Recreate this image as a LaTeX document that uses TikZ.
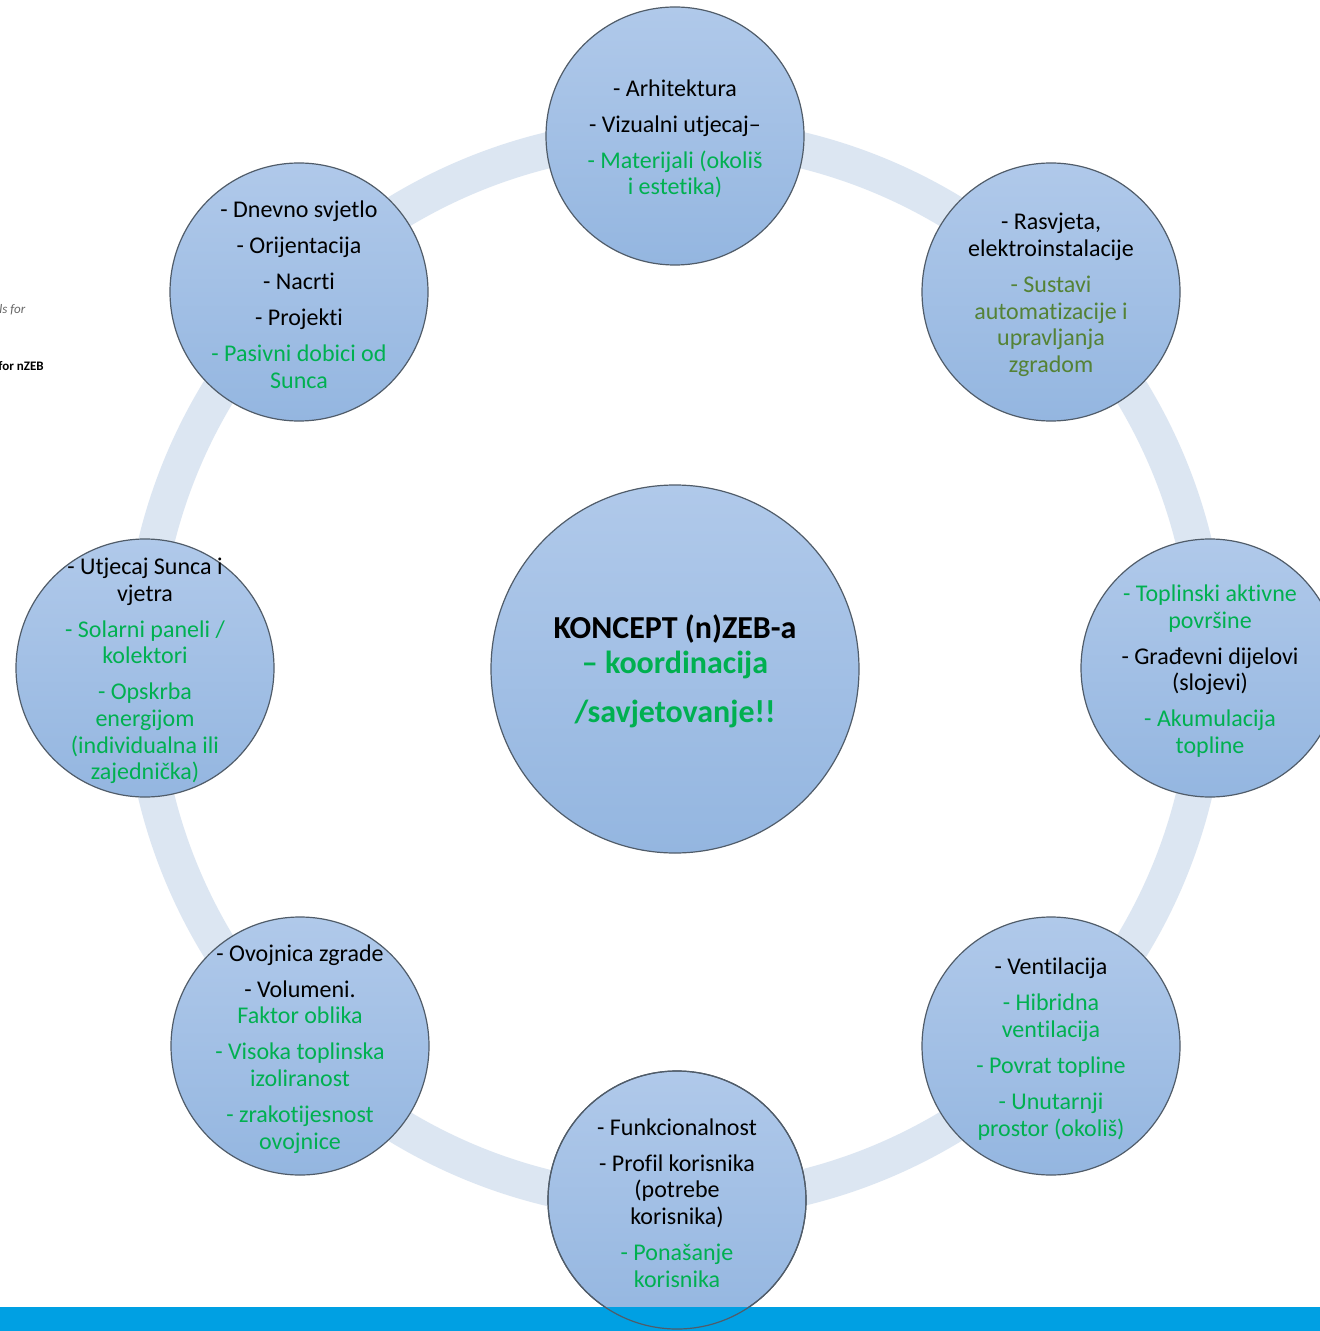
\documentclass[tikz,border=0pt]{standalone}
\usepackage{fontspec}
\setmainfont{Carlito}[Ligatures=NoCommon]
\definecolor{grn}{RGB}{0,176,80}
\definecolor{olv}{RGB}{84,130,53}
\definecolor{ringc}{RGB}{220,230,242}
\definecolor{bubtop}{RGB}{176,201,234}
\definecolor{bubbot}{RGB}{148,182,224}
\definecolor{bubline}{RGB}{80,92,105}
\definecolor{barc}{RGB}{0,160,227}
\newcommand{\grn}[1]{\textcolor{grn}{#1}}
\newcommand{\olv}[1]{\textcolor{olv}{#1}}
\begin{document}
\begin{tikzpicture}[x=0.5pt,y=-0.5pt,
  bub/.style={circle, minimum size=129pt, inner sep=0pt, top color=bubtop, bottom color=bubbot, draw=bubline, line width=0.6pt},
  bigbub/.style={circle, minimum size=184pt, inner sep=0pt, top color=bubtop, bottom color=bubbot, draw=bubline, line width=0.6pt},
  txt/.style={align=center, inner sep=0pt, yshift=-1.5pt, font=\fontsize{12pt}{13.3pt}\selectfont},
  ctxt/.style={align=center, inner sep=0pt, yshift=-1pt, font=\bfseries\fontsize{16pt}{17.5pt}\selectfont},
  ringline/.style={draw=ringc, line width=18pt},
  outline/.style={circle, minimum size=129pt, inner sep=0pt, draw=bubline, line width=0.6pt}
]
\useasboundingbox (0,0) rectangle (1320,1331);
\clip (0,0) rectangle (1320,1331);
\fill[white] (0,0) rectangle (1320,1331);
% left edge fragments
\node[anchor=west, inner sep=0pt, font=\itshape\fontsize{6.5pt}{7pt}\selectfont, text=black!60] (frA) at (-1,310) {ls for};
\node[anchor=west, inner sep=0pt, font=\bfseries\fontsize{6.5pt}{7pt}\selectfont] (frB) at (-2,366) {for nZEB};
% ring
\coordinate (ctr) at (675,669);
\draw[ringline] (ctr) circle[radius=534];
% centre
\node[bigbub] (c) at (675,669) {};
\node[ctxt] (ct) at (c.center) {KONCEPT (n)ZEB-a\\ \grn{-- koordinacija}\\[7pt] \grn{/savjetovanje!!}};
% outer bubbles
\node[bub] (n1) at (675,136) {};
\node[txt] (t1) at (n1.center) {- Arhitektura\\[4.7pt] - Vizualni utjecaj--\\[4.7pt] \grn{- Materijali (okoliš}\\ \grn{i estetika)}};
\node[bub] (n2) at (1051,292) {};
\node[txt] (t2) at (n2.center) {- Rasvjeta,\\ elektroinstalacije\\[4.7pt] \olv{- Sustavi}\\ \olv{automatizacije i}\\ \olv{upravljanja}\\ \olv{zgradom}};
\node[bub] (n3) at (1210,668) {};
\node[txt] (t3) at (n3.center) {\grn{- Toplinski aktivne}\\ \grn{površine}\\[4.7pt] - Građevni dijelovi\\ (slojevi)\\[4.7pt] \grn{- Akumulacija}\\ \grn{topline}};
\node[bub] (n4) at (1051,1046) {};
\node[txt] (t4) at (n4.center) {- Ventilacija\\[4.7pt] \grn{- Hibridna}\\ \grn{ventilacija}\\[4.7pt] \grn{- Povrat topline}\\[4.7pt] \grn{- Unutarnji}\\ \grn{prostor (okoliš)}};
\node[bub] (n5) at (677,1200) {};
\node[txt] (t5) at (n5.center) {- Funkcionalnost\\[4.7pt] - Profil korisnika\\ (potrebe\\ korisnika)\\[4.7pt] \grn{- Ponašanje}\\ \grn{korisnika}};
\node[bub] (n6) at (300,1046) {};
\node[txt] (t6) at (n6.center) {- Ovojnica zgrade\\[4.7pt] - Volumeni.\\ \grn{Faktor oblika}\\[4.7pt] \grn{- Visoka toplinska}\\ \grn{izoliranost}\\[4.7pt] \grn{- zrakotijesnost}\\ \grn{ovojnice}};
\node[bub] (n7) at (145,668) {};
\node[txt] (t7) at (n7.center) {- Utjecaj Sunca i\\ vjetra\\[4.7pt] \grn{- Solarni paneli /}\\ \grn{kolektori}\\[4.7pt] \grn{- Opskrba}\\ \grn{energijom}\\ \grn{(individualna ili}\\ \grn{zajednička)}};
\node[bub] (n8) at (299,292) {};
\node[txt] (t8) at (n8.center) {- Dnevno svjetlo\\[4.7pt] - Orijentacija\\[4.7pt] - Nacrti\\[4.7pt] - Projekti\\[4.7pt] \grn{- Pasivni dobici od}\\ \grn{Sunca}};
% bottom bar
\fill[barc] (0,1307) rectangle (1320,1331);
\node[outline] (n5o) at (n5.center) {};
\end{tikzpicture}
\end{document}
